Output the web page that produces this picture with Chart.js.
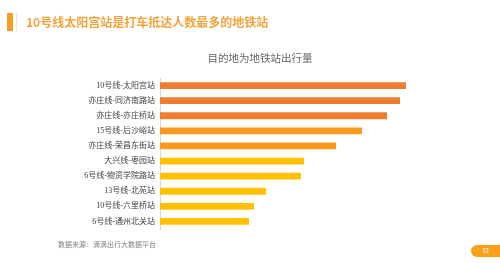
<!DOCTYPE html>
<html>
<head>
<meta charset="utf-8">
<script src="https://cdn.jsdelivr.net/npm/chart.js@4"></script>
<style>
  html, body { margin: 0; padding: 0; background: #fff; }
  #page { position: relative; width: 500px; height: 263px; overflow: hidden; font-family: "Noto Sans CJK SC", sans-serif; }
  #accent { position: absolute; left: 7px; top: 13px; width: 6px; height: 18px; background: #F5A01E; }
  #sep { position: absolute; left: 16px; top: 13px; width: 1px; height: 18px; background: #e6e6e6; }
  #head { position: absolute; left: 26px; top: 13px; font-size: 12px; font-weight: bold; color: #F2A43C; line-height: 18px; }
  #ctitle { position: absolute; left: 0; width: 520px; top: 51px; text-align: center; font-size: 10.5px; color: #666; line-height: 14px; }
  #src { position: absolute; left: 58px; top: 239px; font-size: 7px; color: #7f7f7f; }
  #pg { position: absolute; left: 471px; top: 245px; width: 29px; height: 12px; background: #F7A01C; border-radius: 6px 0 0 6px; color: #fff; font-size: 6px; line-height: 12px; text-align: center; }
  #wrap { position: absolute; left: 0; top: 0; width: 500px; height: 263px; }
</style>
</head>
<body>
<div id="page">
  <div id="wrap"><canvas id="myChart" width="500" height="263"></canvas></div>
  <div id="accent"></div>
  <div id="sep"></div>
  <div id="head">10号线太阳宫站是打车抵达人数最多的地铁站</div>
  <div id="ctitle">目的地为地铁站出行量</div>
  <div id="src">数据来源：滴滴出行大数据平台</div>
  <div id="pg">32</div>
</div>
<script>
var estaciones = ["10号线-太阳宫站", "亦庄线-同济南路站", "亦庄线-亦庄桥站", "15号线-后沙峪站", "亦庄线-荣昌东街站",
                  "大兴线-枣园站", "6号线-物资学院路站", "13号线-北苑站", "10号线-六里桥站", "6号线-通州北关站"];
var valores = [246, 240, 227, 202, 176, 144, 141, 106, 94, 89];
var cores = ["#ED7D31", "#ED7D31", "#ED7D31", "#F79A1E", "#F79A1E",
             "#FFC000", "#FFC000", "#FFC000", "#FFC000", "#FFC000"];

var ctx = document.getElementById('myChart').getContext('2d');
var myChart = new Chart(ctx, {
    type: 'bar',
    data: {
        labels: estaciones,
        datasets: [
            {
                data: valores,
                backgroundColor: cores,
                borderWidth: 0,
                barPercentage: 0.9,
                categoryPercentage: 0.5
            }
        ]
    },
    options: {
        indexAxis: 'y',
        responsive: false,
        animation: false,
        layout: { padding: { top: 78, bottom: 34, left: 0, right: 90 } },
        plugins: {
            legend: { display: false },
            title: { display: false },
            tooltip: { enabled: false }
        },
        scales: {
            x: { display: false, min: 0, max: 250 },
            y: {
                afterFit: function(s){ s.width = 160; },
                grid: { display: false, drawTicks: false },
                border: { display: true, color: '#d9d9d9', width: 1 },
                ticks: {
                    padding: 5,
                    color: '#404040',
                    font: { family: '"Liberation Serif", "Noto Sans CJK SC"', size: 8 }
                }
            }
        }
    }
});
</script>
</body>
</html>
